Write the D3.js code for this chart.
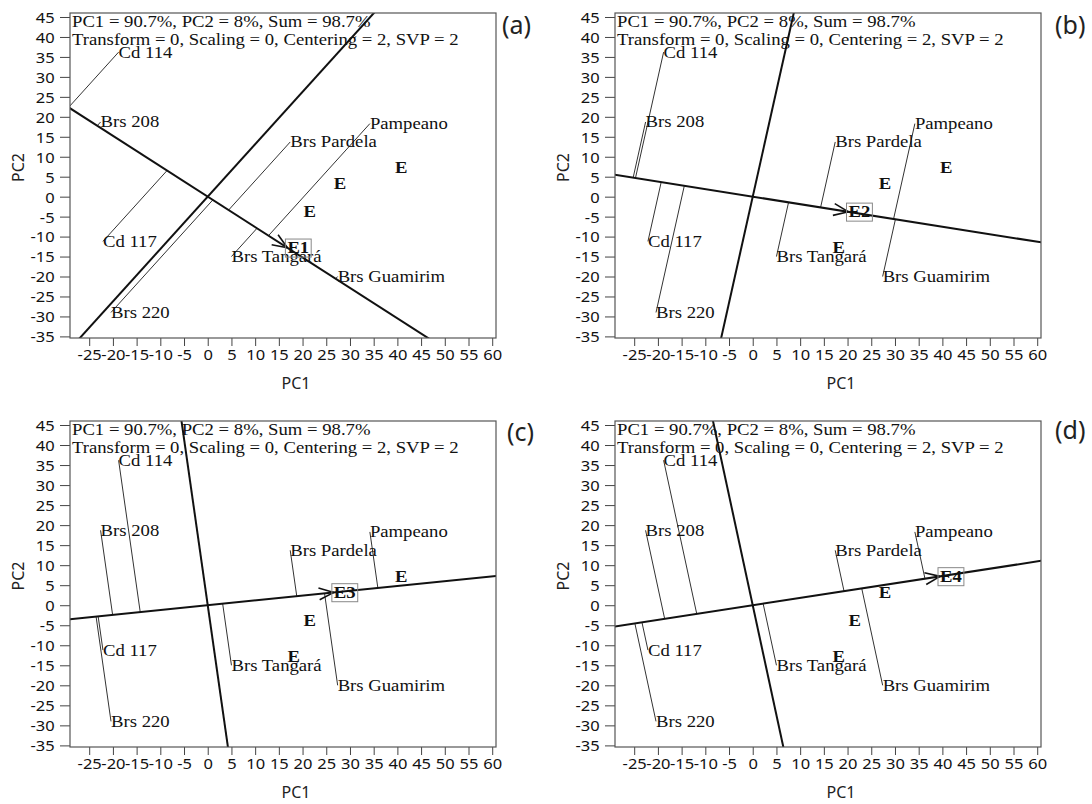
<!DOCTYPE html>
<html>
<head>
<meta charset="utf-8">
<script src="https://cdn.jsdelivr.net/npm/d3@7/dist/d3.min.js"></script>
<style>
  body { margin: 0; background: #fff; }
</style>
</head>
<body>
<div id="plot"></div>
<script>
// genotype scores (PC1, PC2)
var genotypes = ["Cd 114", "Brs 208", "Cd 117", "Brs 220", "Brs Pardela", "Pampeano", "Brs Tangará", "Brs Guamirim"];
var genoPC1 = [-18.8, -22.6, -22.1, -20.4, 17.4, 34.2, 5.0, 27.4];
var genoPC2 = [36.2, 18.7, -11.2, -29.0, 13.7, 18.3, -15.0, -20.0];

// environment scores
var envs = ["E1", "E2", "E3", "E4"];
var envPC1 = [16.8, 20.2, 26.6, 39.5];
var envPC2 = [-12.8, -3.8, 3.2, 7.2];

var panelNames = ["(a)", "(b)", "(c)", "(d)"];
var xTicks = [-25, -20, -15, -10, -5, 0, 5, 10, 15, 20, 25, 30, 35, 40, 45, 50, 55, 60];
var yTicks = [-35, -30, -25, -20, -15, -10, -5, 0, 5, 10, 15, 20, 25, 30, 35, 40, 45];
var infoLines = ["PC1 = 90.7%, PC2 = 8%, Sum = 98.7%", "Transform = 0, Scaling = 0, Centering = 2, SVP = 2"];

const w = 1092;
const h = 804;
const SX = 1.1; // the source picture is a bit stretched sideways
const serif = "'Liberation Serif', 'Times New Roman', serif";
const sans = "'Noto Sans', 'Open Sans', sans-serif";

const boxes = [
  { x0: 70, x1: 496, y0: 13, y1: 338, lx: 502, ly: 34 },
  { x0: 615, x1: 1041, y0: 13, y1: 338, lx: 1055, ly: 34 },
  { x0: 70, x1: 496, y0: 421, y1: 747, lx: 507, ly: 441 },
  { x0: 615, x1: 1041, y0: 421, y1: 747, lx: 1055, ly: 439 },
];

const svg = d3.select("div#plot")
  .append("svg")
  .attr("width", w)
  .attr("height", h);

function putText(g, x, y, str) {
  return g.append("text")
    .attr("transform", `translate(${x},${y}) scale(${SX},1)`)
    .text(str);
}

function drawPanel(i) {
  const b = boxes[i];
  const g = svg.append("g");

  const xScale = d3.scaleLinear().domain([-29.05, 60.8]).range([b.x0, b.x1]);
  const yScale = d3.scaleLinear().domain([-35.4, 46]).range([b.y1, b.y0]);

  const xAxis = d3.axisBottom(xScale).tickValues(xTicks).tickFormat(d => String(d))
    .tickSize(8).tickSizeOuter(0).tickPadding(3);
  const yAxis = d3.axisLeft(yScale).tickValues(yTicks).tickFormat(d => String(d))
    .tickSize(10).tickSizeOuter(0).tickPadding(4);

  const xg = g.append("g").attr("transform", `translate(0,${b.y1})`).call(xAxis);
  const yg = g.append("g").attr("transform", `translate(${b.x0},0)`).call(yAxis);
  [xg, yg].forEach(a => {
    a.select(".domain").remove();
    a.selectAll("line").attr("stroke", "#444");
    a.selectAll("text")
      .attr("font-family", sans)
      .attr("font-size", 15)
      .attr("fill", "#111")
      .attr("transform", `scale(${SX},1)`);
  });
  yg.selectAll("text").attr("dy", "0.36em");

  // axis titles and panel letter
  g.append("text")
    .attr("x", b.x0 + 226).attr("y", b.y1 + 51)
    .attr("text-anchor", "middle")
    .attr("font-family", sans).attr("font-size", 16).attr("fill", "#222")
    .text("PC1");
  g.append("text")
    .attr("transform", `translate(${b.x0 - 46},${(b.y0 + b.y1) / 2 - 8}) rotate(-90)`)
    .attr("text-anchor", "middle")
    .attr("font-family", sans).attr("font-size", 16).attr("fill", "#222")
    .text("PC2");
  g.append("text")
    .attr("x", b.lx).attr("y", b.ly)
    .attr("font-family", sans).attr("font-size", 25).attr("fill", "#222")
    .text(panelNames[i]);

  const clipId = "clip" + i;
  g.append("clipPath").attr("id", clipId)
    .append("rect")
    .attr("x", b.x0).attr("y", b.y0)
    .attr("width", b.x1 - b.x0).attr("height", b.y1 - b.y0);
  const inner = g.append("g").attr("clip-path", `url(#${clipId})`);

  // environment axis through the origin, and its perpendicular
  const ex = envPC1[i], ey = envPC2[i];
  const len = Math.sqrt(ex * ex + ey * ey);
  const ux = ex / len, uy = ey / len;
  const far = 300;

  // projections of genotypes onto the environment axis
  genotypes.forEach((name, k) => {
    const t = genoPC1[k] * ux + genoPC2[k] * uy;
    inner.append("line")
      .attr("x1", xScale(genoPC1[k])).attr("y1", yScale(genoPC2[k]))
      .attr("x2", xScale(t * ux)).attr("y2", yScale(t * uy))
      .attr("stroke", "#333").attr("stroke-width", 1);
  });

  inner.append("line")
    .attr("x1", xScale(-far * ux)).attr("y1", yScale(-far * uy))
    .attr("x2", xScale(far * ux)).attr("y2", yScale(far * uy))
    .attr("stroke", "#111").attr("stroke-width", 2);
  inner.append("line")
    .attr("x1", xScale(far * uy)).attr("y1", yScale(-far * ux))
    .attr("x2", xScale(-far * uy)).attr("y2", yScale(far * ux))
    .attr("stroke", "#111").attr("stroke-width", 2);

  // arrow head at the chosen environment
  const tx = xScale(ex), ty = yScale(ey);
  const ang = Math.atan2(ty - yScale(0), tx - xScale(0));
  [-0.38, 0.38].forEach(da => {
    inner.append("line")
      .attr("x1", tx).attr("y1", ty)
      .attr("x2", tx - 16 * Math.cos(ang + da))
      .attr("y2", ty - 16 * Math.sin(ang + da))
      .attr("stroke", "#111").attr("stroke-width", 1.6);
  });

  // plot frame
  g.append("rect")
    .attr("x", b.x0).attr("y", b.y0)
    .attr("width", b.x1 - b.x0).attr("height", b.y1 - b.y0)
    .attr("fill", "none").attr("stroke", "#555").attr("stroke-width", 1.2);

  // info lines
  infoLines.forEach((s, k) => {
    putText(g, b.x0 + 2, b.y0 + 14 + k * 17.5, s)
      .attr("font-family", serif).attr("font-size", 17).attr("fill", "#111");
  });

  // genotype labels
  genotypes.forEach((name, k) => {
    putText(g, xScale(genoPC1[k]), yScale(genoPC2[k]) + 5.5, name)
      .attr("font-family", serif).attr("font-size", 17).attr("fill", "#111");
  });

  // environment labels, only the focused one is named
  envs.forEach((name, k) => {
    const tl = putText(g, xScale(envPC1[k]), yScale(envPC2[k]) + 5.5, k === i ? name : "E")
      .attr("font-family", serif).attr("font-size", 17)
      .attr("font-weight", "bold").attr("fill", "#111");
    if (k === i) {
      const bb = tl.node().getBBox();
      g.append("rect")
        .attr("x", xScale(envPC1[k]) + bb.x * SX - 2)
        .attr("y", yScale(envPC2[k]) + 5.5 + bb.y + 1)
        .attr("width", bb.width * SX + 4)
        .attr("height", bb.height - 1)
        .attr("fill", "none").attr("stroke", "#888").attr("stroke-width", 1);
    }
  });
}

d3.range(4).forEach(drawPanel);
</script>
</body>
</html>
